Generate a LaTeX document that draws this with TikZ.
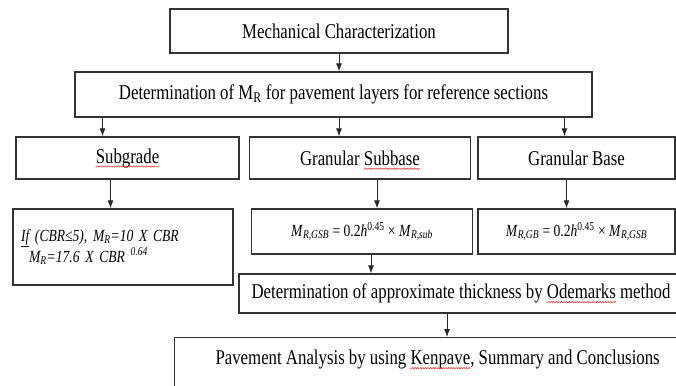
\documentclass[tikz,border=0pt]{standalone}
\usepackage{fontspec}
\setmainfont[FakeStretch=0.8]{Liberation Serif}
\usetikzlibrary{arrows.meta}

\newcommand{\headfont}{\fontsize{21}{24}\selectfont}

% red wavy mark under one word of a node, as the spell checker puts it
\newlength{\spellall}\newlength{\spellpre}\newlength{\spellword}
\newcommand{\spellwave}[4]{% node, text before, word, text after
  \pgfinterruptpicture
    \settowidth{\spellall}{\headfont #2#3#4}\global\spellall=\spellall
    \settowidth{\spellpre}{\headfont #2}\global\spellpre=\spellpre
    \settowidth{\spellword}{\headfont #3}\global\spellword=\spellword
  \endpgfinterruptpicture
  \pgfmathsetmacro{\spellwn}{\spellword}
  \draw[spell wave,shift={([xshift=\spellpre-0.5\spellall,yshift=-3.5pt]#1.base)}]
    plot[domain=0:\spellwn,samples=160] (\x,{0.7*sin(\x*140)});}

\tikzset{
		% boxes and arrows of the flow chart
		flow box/.style={rectangle,draw=black!80,line width=1.3pt,inner sep=3pt,font=\headfont},
		formula box/.style={flow box,font=\fontsize{17}{20}\selectfont},
		flow arrow/.style={-{Latex[length=8pt,width=6pt]},line width=0.9pt,black!85},
		spell wave/.style={red!90,line width=0.45pt}
	}

\begin{document}
\begin{tikzpicture}[x=1pt,y=-1pt]
		\useasboundingbox (0,0) rectangle (676,385);
		\clip (0,0) rectangle (676,385);
		% top of the chart
		\node[flow box,minimum width=338,minimum height=44] (mech) at (339,31) {Mechanical Characterization};
		\node[flow box,minimum width=517,minimum height=45] (mr) at (333.5,94.5)
			{Determination of M\textsubscript{R} for pavement layers for reference sections};
		% the three layers
		\node[flow box,minimum width=223,minimum height=42] (sub) at (127.5,158) {Subgrade};
		\node[flow box,minimum width=221,minimum height=42] (gsub) at (360,158) {Granular Subbase};
		\node[flow box,minimum width=197,minimum height=42] (gbase) at (576.5,158) {Granular Base};
		% their moduli
		\node[formula box,minimum height=76,text width=204,inner xsep=8pt,align=left] (subf) at (123,247)
			{\itshape \underline{If} (CBR≤5), \textit{M}\textsubscript{R}=10 X CBR\\[1pt]
			\hspace*{8pt}\textit{M}\textsubscript{R}=17.6 X CBR \textsuperscript{0.64}};
		\node[formula box,minimum width=221,minimum height=45] (gsubf) at (362,231.5)
			{\textit{M}\textsubscript{\textit{R,GSB}} = 0.2\textit{h}\textsuperscript{0.45} × \textit{M}\textsubscript{\textit{R,sub}}};
		\node[formula box,minimum width=197,minimum height=45] (gbasef) at (576.5,231.5)
			{\textit{M}\textsubscript{\textit{R,GB}} = 0.2\textit{h}\textsuperscript{0.45} × \textit{M}\textsubscript{\textit{R,GSB}}};
		% thickness and analysis
		\node[flow box,minimum width=444,minimum height=39] (odem) at (461,293.5)
			{Determination of approximate thickness by Odemarks method};
		\node[flow box,anchor=north west,minimum width=526,inner ysep=0pt,text height=27pt,text depth=35pt] (pav) at (174,337)
			{Pavement Analysis by using Kenpave, Summary and Conclusions};
		% spelling marks
		\spellwave{sub}{}{Subgrade}{}
		\spellwave{gsub}{Granular }{Subbase}{}
		\spellwave{odem}{Determination of approximate thickness by }{Odemarks}{ method}
		\spellwave{pav}{Pavement Analysis by using }{Kenpave}{, Summary and Conclusions}
		% arrows
		\draw[flow arrow] (mech.south) -- (mech.south |- mr.north);
		\draw[flow arrow] ([xshift=-25pt]sub.north |- mr.south) -- ([xshift=-25pt]sub.north);
		\draw[flow arrow] ([xshift=-21pt]gsub.north |- mr.south) -- ([xshift=-21pt]gsub.north);
		\draw[flow arrow] ([xshift=-12pt]gbase.north |- mr.south) -- ([xshift=-12pt]gbase.north);
		\draw[flow arrow] ([xshift=-17pt]sub.south) -- ([xshift=-17pt]sub.south |- subf.north);
		\draw[flow arrow] ([xshift=17pt]gsub.south) -- ([xshift=17pt]gsub.south |- gsubf.north);
		\draw[flow arrow] ([xshift=-10pt]gbase.south) -- ([xshift=-10pt]gbase.south |- gbasef.north);
		\draw[flow arrow] ([xshift=9pt]gsubf.south) -- ([xshift=9pt]gsubf.south |- odem.north);
		\draw[flow arrow] ([xshift=-14pt]odem.south) -- ([xshift=-14pt]odem.south |- pav.north);
	\end{tikzpicture}
\end{document}
